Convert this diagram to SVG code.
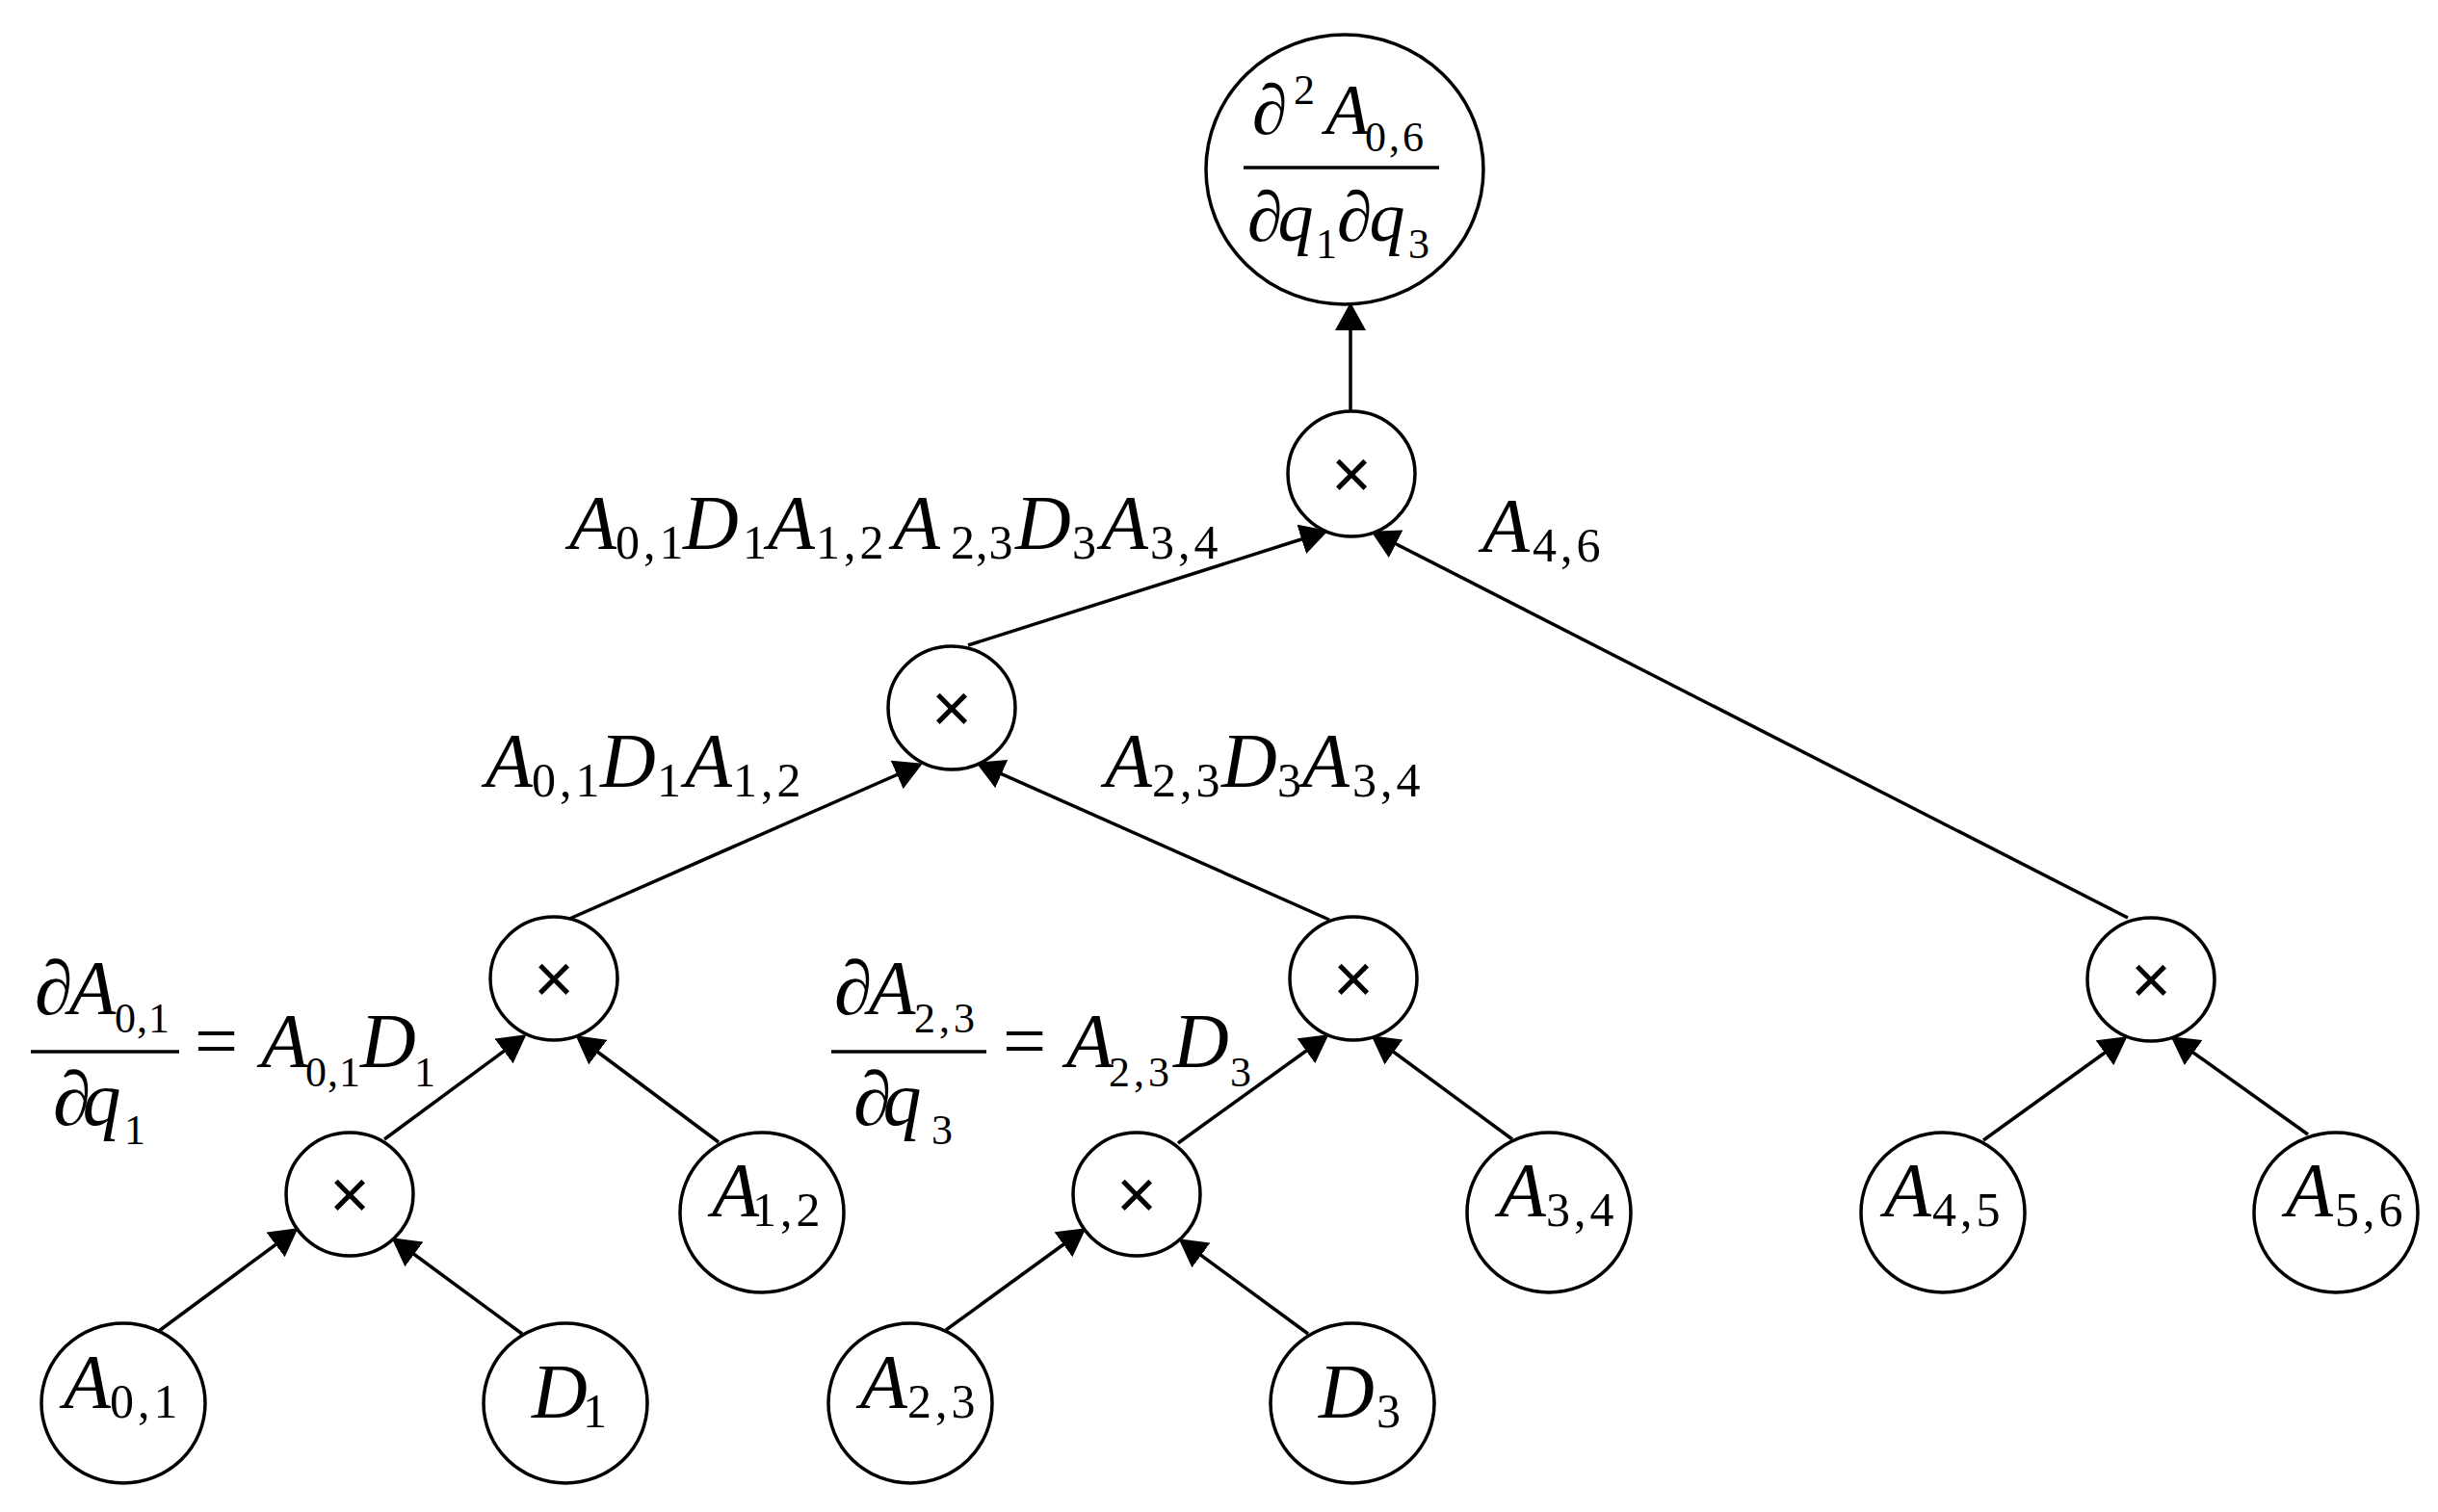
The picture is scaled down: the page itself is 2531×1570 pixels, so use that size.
<svg xmlns="http://www.w3.org/2000/svg" width="2531" height="1570" viewBox="0 0 2531 1570">
<style>
text{font-family:"Liberation Serif","Times New Roman",serif;fill:#000}
.n{fill:#fff;stroke:#000;stroke-width:3.5}
.e{stroke:#000;stroke-width:3.5;fill:none;marker-end:url(#ah)}
.fl{stroke:#000;stroke-width:3.5}
.m{font-style:italic;font-size:80px}
.s{font-style:normal;font-size:50px;letter-spacing:4px}
.fs{font-style:normal;font-size:44px;letter-spacing:1px}
.d{font-style:normal;font-size:80px;letter-spacing:0}
.x{font-family:"Liberation Sans",Arial,sans-serif;font-size:72px;text-anchor:middle}
</style>
<defs>
<marker id="ah" markerUnits="userSpaceOnUse" markerWidth="32" markerHeight="32" refX="26" refY="16" orient="auto" viewBox="0 0 32 32">
<path d="M0,0 L29,16 L0,32 z" fill="#000"/>
</marker>
</defs>
<rect width="2531" height="1570" fill="#fff"/>

<g id="connectors">
<line class="e" x1="1402" y1="427" x2="1402" y2="317"/>
<line class="e" x1="1005" y1="670" x2="1376" y2="552"/>
<line class="e" x1="2209" y1="953" x2="1426" y2="553"/>
<line class="e" x1="589" y1="955" x2="955" y2="794"/>
<line class="e" x1="1380" y1="955" x2="1016" y2="793"/>
<line class="e" x1="399" y1="1183" x2="544" y2="1076"/>
<line class="e" x1="746" y1="1186" x2="600" y2="1077"/>
<line class="e" x1="165" y1="1382" x2="307" y2="1277"/>
<line class="e" x1="542" y1="1385" x2="409" y2="1287"/>
<line class="e" x1="1223" y1="1187" x2="1377" y2="1076"/>
<line class="e" x1="1570" y1="1183" x2="1426" y2="1077"/>
<line class="e" x1="982" y1="1381" x2="1125" y2="1277"/>
<line class="e" x1="1358" y1="1385" x2="1226" y2="1288"/>
<line class="e" x1="2059" y1="1184" x2="2206" y2="1078"/>
<line class="e" x1="2396" y1="1178" x2="2256" y2="1078"/>
</g>

<g id="node-root">
<ellipse class="n" cx="1396" cy="176" rx="144" ry="140"/>
<text><tspan class="m" x="1300" y="139" style="font-size:74px">∂</tspan><tspan class="fs" x="1343" y="108">2</tspan><tspan class="m" x="1376" y="139" style="font-size:74px">A</tspan><tspan class="fs" x="1417" y="157" style="letter-spacing:3px">0,6</tspan></text>
<line class="fl" x1="1291" y1="174" x2="1494" y2="174"/>
<text><tspan class="m" x="1295" y="250" style="font-size:74px;letter-spacing:-5px">∂q</tspan><tspan class="fs" x="1366" y="268">1</tspan><tspan class="m" x="1388" y="250" style="font-size:74px;letter-spacing:-3px">∂q</tspan><tspan class="fs" x="1462" y="268">3</tspan></text>
</g>

<g id="node-mul-top">
<ellipse class="n" cx="1403" cy="492" rx="66" ry="65"/>
<text class="x" x="1403" y="517">×</text>
</g>
<g id="node-mul-l2">
<ellipse class="n" cx="988" cy="735" rx="66" ry="64"/>
<text class="x" x="988" y="760">×</text>
</g>
<g id="node-mul-l3a">
<ellipse class="n" cx="575" cy="1016" rx="66" ry="64"/>
<text class="x" x="575" y="1041">×</text>
</g>
<g id="node-mul-l3b">
<ellipse class="n" cx="1405" cy="1016" rx="66" ry="64"/>
<text class="x" x="1405" y="1041">×</text>
</g>
<g id="node-mul-l3c">
<ellipse class="n" cx="2233" cy="1017" rx="66" ry="64"/>
<text class="x" x="2233" y="1042">×</text>
</g>
<g id="node-mul-l4a">
<ellipse class="n" cx="363" cy="1240" rx="66" ry="64"/>
<text class="x" x="363" y="1265">×</text>
</g>
<g id="node-mul-l4b">
<ellipse class="n" cx="1180" cy="1240" rx="66" ry="64"/>
<text class="x" x="1180" y="1265">×</text>
</g>

<g id="node-A01">
<ellipse class="n" cx="128" cy="1457" rx="85" ry="83"/>
<text><tspan class="m" x="66" y="1462">A</tspan><tspan class="s" x="114" y="1472">0,1</tspan></text>
</g>
<g id="node-D1">
<ellipse class="n" cx="587" cy="1457" rx="85" ry="83"/>
<text><tspan class="m" x="552" y="1472">D</tspan><tspan class="s" x="605" y="1482">1</tspan></text>
</g>
<g id="node-A23">
<ellipse class="n" cx="945" cy="1457" rx="85" ry="83"/>
<text><tspan class="m" x="893" y="1462">A</tspan><tspan class="s" x="942" y="1472">2,3</tspan></text>
</g>
<g id="node-D3">
<ellipse class="n" cx="1404" cy="1457" rx="85" ry="83"/>
<text><tspan class="m" x="1369" y="1472">D</tspan><tspan class="s" x="1429" y="1482">3</tspan></text>
</g>
<g id="node-A12">
<ellipse class="n" cx="791" cy="1259" rx="85" ry="83"/>
<text><tspan class="m" x="739" y="1263">A</tspan><tspan class="s" x="781" y="1273">1,2</tspan></text>
</g>
<g id="node-A34">
<ellipse class="n" cx="1608" cy="1259" rx="85" ry="83"/>
<text><tspan class="m" x="1556" y="1263">A</tspan><tspan class="s" x="1605" y="1273">3,4</tspan></text>
</g>
<g id="node-A45">
<ellipse class="n" cx="2017" cy="1259" rx="85" ry="83"/>
<text><tspan class="m" x="1956" y="1263">A</tspan><tspan class="s" x="2006" y="1273">4,5</tspan></text>
</g>
<g id="node-A56">
<ellipse class="n" cx="2425" cy="1259" rx="85" ry="83"/>
<text><tspan class="m" x="2373" y="1263">A</tspan><tspan class="s" x="2424" y="1273">5,6</tspan></text>
</g>

<g id="labels">
<text id="label-top-left"><tspan class="m" x="591" y="570">A</tspan><tspan class="s" x="639" y="580">0,1</tspan><tspan class="m" x="709" y="570">D</tspan><tspan class="s" x="771" y="580">1</tspan><tspan class="m" x="797" y="570">A</tspan><tspan class="s" x="847" y="580">1,2</tspan><tspan class="m" x="927" y="570">A</tspan><tspan class="s" x="987" y="580" style="letter-spacing:1px">2,3</tspan><tspan class="m" x="1054" y="570">D</tspan><tspan class="s" x="1113" y="580">3</tspan><tspan class="m" x="1143" y="570">A</tspan><tspan class="s" x="1194" y="580">3,4</tspan></text>
<text id="label-A46"><tspan class="m" x="1539" y="573">A</tspan><tspan class="s" x="1591" y="583">4,6</tspan></text>
<text id="label-mid-left"><tspan class="m" x="504" y="817">A</tspan><tspan class="s" x="552" y="827">0,1</tspan><tspan class="m" x="623" y="817">D</tspan><tspan class="s" x="682" y="827">1</tspan><tspan class="m" x="711" y="817">A</tspan><tspan class="s" x="761" y="827">1,2</tspan></text>
<text id="label-mid-right"><tspan class="m" x="1147" y="817">A</tspan><tspan class="s" x="1196" y="827">2,3</tspan><tspan class="m" x="1268" y="817">D</tspan><tspan class="s" x="1326" y="827">3</tspan><tspan class="m" x="1352" y="817">A</tspan><tspan class="s" x="1404" y="827">3,4</tspan></text>
<g id="label-frac-left">
<text><tspan class="m" x="36" y="1053" style="letter-spacing:-4px">∂A</tspan><tspan class="fs" x="119" y="1072">0,1</tspan></text>
<line class="fl" x1="32" y1="1092" x2="186" y2="1092"/>
<text><tspan class="m" x="55" y="1168" style="letter-spacing:-9px">∂q</tspan><tspan class="fs" x="129" y="1188">1</tspan></text>
<text><tspan class="d" x="202" y="1108">=</tspan><tspan class="m" x="271" y="1108">A</tspan><tspan class="fs" x="317" y="1128">0,1</tspan><tspan class="m" x="374" y="1108">D</tspan><tspan class="fs" x="430" y="1128">1</tspan></text>
</g>
<g id="label-frac-mid">
<text><tspan class="m" x="866" y="1053" style="letter-spacing:-4px">∂A</tspan><tspan class="fs" x="949" y="1072" style="letter-spacing:4px">2,3</tspan></text>
<line class="fl" x1="863" y1="1092" x2="1024" y2="1092"/>
<text><tspan class="m" x="886" y="1168" style="letter-spacing:-9px">∂q</tspan><tspan class="fs" x="967" y="1188">3</tspan></text>
<text><tspan class="d" x="1041" y="1108">=</tspan><tspan class="m" x="1107" y="1108">A</tspan><tspan class="fs" x="1151" y="1128" style="letter-spacing:4px">2,3</tspan><tspan class="m" x="1218" y="1108">D</tspan><tspan class="fs" x="1277" y="1128">3</tspan></text>
</g>
</g>
</svg>
